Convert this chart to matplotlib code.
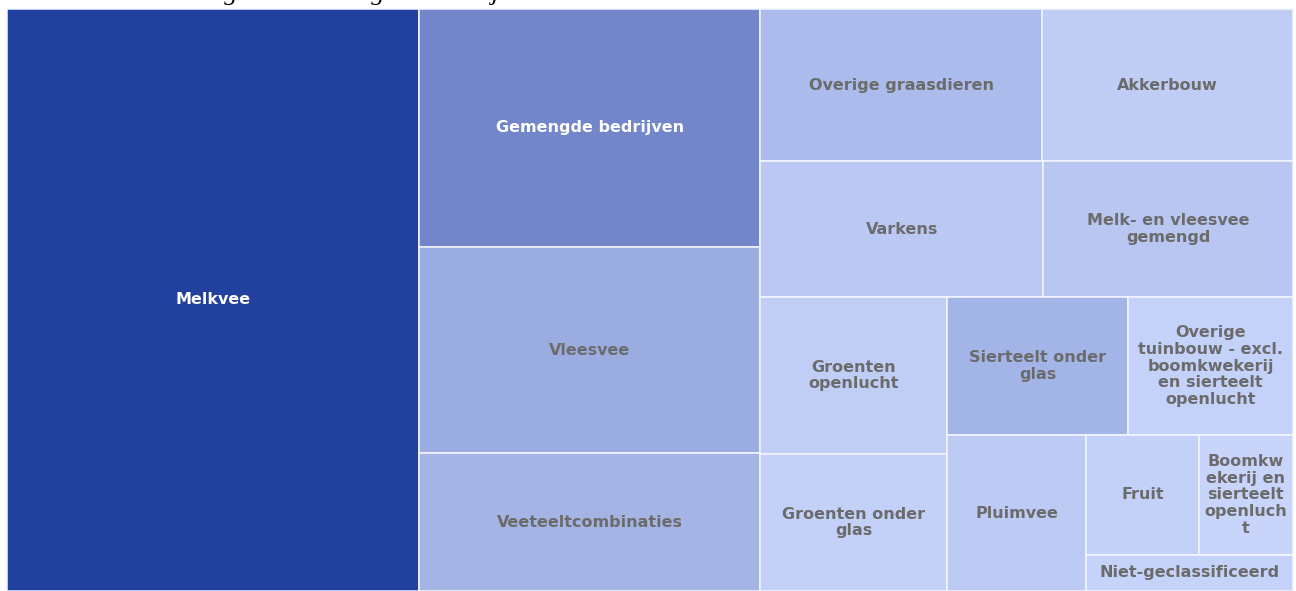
import matplotlib
matplotlib.use("Agg")
import matplotlib.pyplot as plt
from matplotlib.patches import Rectangle

# share of holdings per farm type (%), read from the tile areas
labels = [
    "Melkvee", "Gemengde bedrijven", "Vleesvee", "Veeteeltcombinaties",
    "Overige graasdieren", "Akkerbouw", "Varkens", "Melk- en vleesvee\ngemengd",
    "Groenten\nopenlucht", "Groenten onder\nglas", "Sierteelt onder\nglas",
    "Overige\ntuinbouw - excl.\nboomkwekerij\nen sierteelt\nopenlucht",
    "Pluimvee", "Fruit", "Boomkw\nekerij en\nsierteelt\nopenluch\nt",
    "Niet-geclassificeerd",
]
values = [32.06, 10.83, 9.41, 6.27, 5.73, 5.10, 5.15, 4.54,
          3.93, 3.43, 3.33, 3.04, 2.89, 1.80, 1.51, 1.00]
colors = ["#22409d", "#7286c9", "#9badE0", "#a3b4e5", "#abbbeb", "#bfcdf5",
          "#bac8f3", "#b8c6f1", "#c0cef6", "#c3d0f7", "#a3b5e6", "#c4d1f8",
          "#bccaf4", "#c3d0f8", "#c8d4fa", "#c5d2f9"]
text_colors = ["white", "white"] + ["#6b6b6b"] * 14

# how the tiles are grouped: (number of tiles, strip direction)
strips = [(1, "col"), (3, "col"), (2, "row"), (2, "row"), (2, "col"),
          (2, "row"), (1, "col"), (2, "row"), (1, "row")]


def layout(vals, strips, x0, y0, x1, y1):
    rects = []
    total = sum(vals)
    i = 0
    for n, orient in strips:
        part = vals[i:i + n]
        s = sum(part)
        w, h = x1 - x0, y1 - y0
        if orient == "col":
            cw = w * s / total
            y = y0
            for v in part:
                ph = h * v / s
                rects.append((x0, y, cw, ph))
                y += ph
            x0 += cw
        else:
            rh = h * s / total
            x = x0
            for v in part:
                pw = w * v / s
                rects.append((x, y0, pw, rh))
                x += pw
            y0 += rh
        total -= s
        i += n
    return rects


fig = plt.figure(figsize=(12.96, 5.91), dpi=100)
ax = fig.add_axes([0, 0, 1, 1])
ax.set_xlim(0, 1296)
ax.set_ylim(591, 0)
ax.axis("off")

rects = layout(values, strips, 7, 9, 1293, 591)
for (x, y, w, h), lab, c, tc in zip(rects, labels, colors, text_colors):
    ax.add_patch(Rectangle((x, y), w, h, facecolor=c, edgecolor="#f4f6ff", linewidth=1.1))
    ax.text(x + w / 2, y + h / 2, lab, ha="center", va="center", color=tc,
            fontsize=11.5, fontweight="bold", family="DejaVu Sans", linespacing=1.15)

# title sits mostly above the visible area
fig.text(137 / 1296, 1.0, "Verdeling naar omvang van bedrijven",
         ha="left", va="baseline", fontsize=19, style="italic",
         family="Liberation Serif", color="black")

fig.savefig("out.png", dpi=100)
